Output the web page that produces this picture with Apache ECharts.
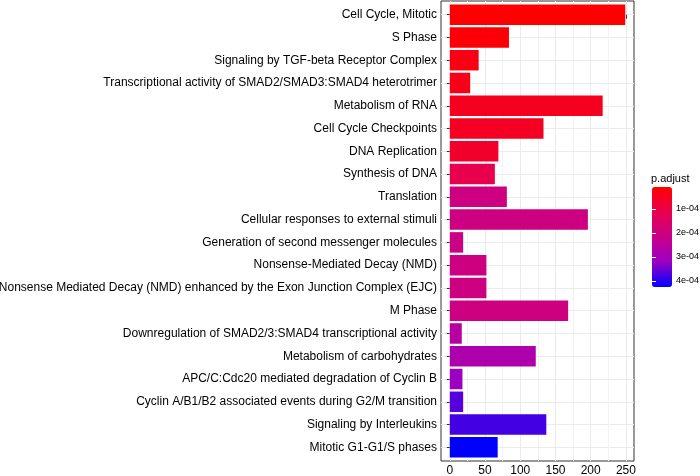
<!DOCTYPE html>
<html>
<head>
<meta charset="utf-8">
<script src="https://cdn.jsdelivr.net/npm/echarts@6/dist/echarts.min.js"></script>
<style>
html, body { margin: 0; padding: 0; background: #fff; }
#chart { width: 700px; height: 476px; }
</style>
</head>
<body>
<div id="chart"></div>
<script>
const categories = [
  "Cell Cycle, Mitotic",
  "S Phase",
  "Signaling by TGF-beta Receptor Complex",
  "Transcriptional activity of SMAD2/SMAD3:SMAD4 heterotrimer",
  "Metabolism of RNA",
  "Cell Cycle Checkpoints",
  "DNA Replication",
  "Synthesis of DNA",
  "Translation",
  "Cellular responses to external stimuli",
  "Generation of second messenger molecules",
  "Nonsense-Mediated Decay (NMD)",
  "Nonsense Mediated Decay (NMD) enhanced by the Exon Junction Complex (EJC)",
  "M Phase",
  "Downregulation of SMAD2/3:SMAD4 transcriptional activity",
  "Metabolism of carbohydrates",
  "APC/C:Cdc20 mediated degradation of Cyclin B",
  "Cyclin A/B1/B2 associated events during G2/M transition",
  "Signaling by Interleukins",
  "Mitotic G1-G1/S phases"
];
const counts = [249, 84, 41, 29, 217, 133, 69, 64, 81, 196, 19, 52, 52, 168, 17, 122, 18, 19, 137, 68];
const pAdjust = [8.3e-6, 1.7e-5, 3.3e-5, 4.2e-5, 5.0e-5, 5.4e-5, 6.7e-5, 1.13e-4, 2.05e-4, 2.05e-4,
                 2.13e-4, 2.05e-4, 2.05e-4, 2.05e-4, 2.59e-4, 2.80e-4, 3.18e-4, 3.68e-4, 3.80e-4, 4.26e-4];
const xMajorTicks = [0, 50, 100, 150, 200, 250];
const xMinorTicks = [25, 75, 125, 175, 225];
const legendTicks = [1e-4, 2e-4, 3e-4, 4e-4];
const gradientColors = ['#FF0000', '#E8004F', '#C90089', '#9A00C3', '#0000FF'];

const pMin = Math.min(...pAdjust);
const pMax = Math.max(...pAdjust);
const cMax = Math.max(...counts);
const xMin = -0.05 * cMax;
const xMax = cMax * 1.05;
const rowIdx = categories.map((c, i) => i);

const FONT = "'Liberation Sans', Arial, Helvetica, sans-serif";

function fmtExp(v) {
  const parts = v.toExponential(0).split('e');
  const n = parseInt(parts[1], 10);
  return parts[0] + 'e' + (n < 0 ? '-' : '+') + String(Math.abs(n)).padStart(2, '0');
}

const chart = echarts.init(document.getElementById('chart'), null, { renderer: 'canvas' });

const panel = { left: 441, right: 66, top: 1, bottom: 15 };
const nCat = categories.length;
const pitch = (476 - panel.top - panel.bottom) / (nCat + 0.2);

chart.setOption({
  animation: false,
  textStyle: { fontFamily: FONT },
  title: {
    text: 'p.adjust', left: 651, top: 173, padding: 0,
    textStyle: { fontFamily: FONT, fontSize: 11, fontWeight: 'normal', color: '#000' }
  },
  grid: [
    { left: panel.left, right: panel.right, top: panel.top, bottom: panel.bottom,
      show: true, borderColor: '#333333', borderWidth: 1, backgroundColor: '#fff',
      containLabel: false, outerBoundsMode: 'none' },
    { left: panel.left, right: panel.right, top: panel.top + 0.1 * pitch, bottom: panel.bottom + 0.1 * pitch,
      containLabel: false, outerBoundsMode: 'none' },
    { left: 652, top: 187, width: 20, height: 100, containLabel: false, outerBoundsMode: 'none' }
  ],
  xAxis: [
    { type: 'value', gridIndex: 0, min: xMin, max: xMax, position: 'bottom',
      axisLine: { show: false },
      axisTick: { show: true, length: 4, customValues: xMajorTicks, lineStyle: { color: '#333' } },
      axisLabel: { show: true, customValues: xMajorTicks, margin: 4, fontSize: 12, color: '#000', fontFamily: FONT },
      splitLine: { show: true, lineStyle: { color: '#EBEBEB', width: 1 } } },
    { type: 'value', gridIndex: 0, min: xMin, max: xMax, position: 'top',
      axisLine: { show: false },
      axisTick: { show: false, customValues: xMinorTicks },
      axisLabel: { show: false, customValues: xMinorTicks },
      splitLine: { show: true, lineStyle: { color: '#F3F3F3', width: 1 } } },
    { type: 'value', gridIndex: 1, min: xMin, max: xMax, show: false },
    { type: 'value', gridIndex: 2, min: 0, max: 1, show: false }
  ],
  yAxis: [
    { type: 'value', gridIndex: 0, min: -0.6, max: nCat - 0.4, inverse: true,
      axisLine: { show: false },
      axisTick: { show: false, customValues: rowIdx },
      axisLabel: { show: false, customValues: rowIdx },
      splitLine: { show: true, lineStyle: { color: '#EBEBEB', width: 1 } } },
    { type: 'category', gridIndex: 1, data: categories, inverse: true,
      axisLine: { show: false },
      axisTick: { show: true, alignWithLabel: true, length: 3, lineStyle: { color: '#333' } },
      axisLabel: { fontSize: 12, color: '#000', margin: 4, fontFamily: FONT, interval: 0 },
      splitLine: { show: false } },
    { type: 'value', gridIndex: 2, min: pMin, max: pMax, inverse: true, position: 'right', z: 10,
      axisLine: { show: false },
      axisTick: { show: true, inside: true, length: 4, customValues: legendTicks, lineStyle: { color: '#fff', width: 1 } },
      axisLabel: { show: true, customValues: legendTicks, formatter: fmtExp, margin: 4, fontSize: 9, color: '#000', fontFamily: FONT },
      splitLine: { show: false } },
    { type: 'value', gridIndex: 2, min: pMin, max: pMax, inverse: true, position: 'left', z: 10,
      axisLine: { show: false },
      axisTick: { show: true, inside: true, length: 4, customValues: legendTicks, lineStyle: { color: '#fff', width: 1 } },
      axisLabel: { show: false, customValues: legendTicks },
      splitLine: { show: false } }
  ],
  visualMap: {
    type: 'continuous', seriesIndex: 0, dimension: 2,
    min: pMin, max: pMax, inverse: true, orient: 'vertical',
    left: 652, top: 187, itemWidth: 20, itemHeight: 100, padding: 0,
    calculable: false, realtime: false, hoverLink: false, showLabel: false, text: null,
    inRange: { color: gradientColors }
  },
  series: [{
    type: 'bar', xAxisIndex: 2, yAxisIndex: 1,
    barCategoryGap: '10%',
    encode: { x: 0, y: 1 },
    data: categories.map((c, i) => [counts[i], c, pAdjust[i]])
  }]
});
</script>
</body>
</html>
